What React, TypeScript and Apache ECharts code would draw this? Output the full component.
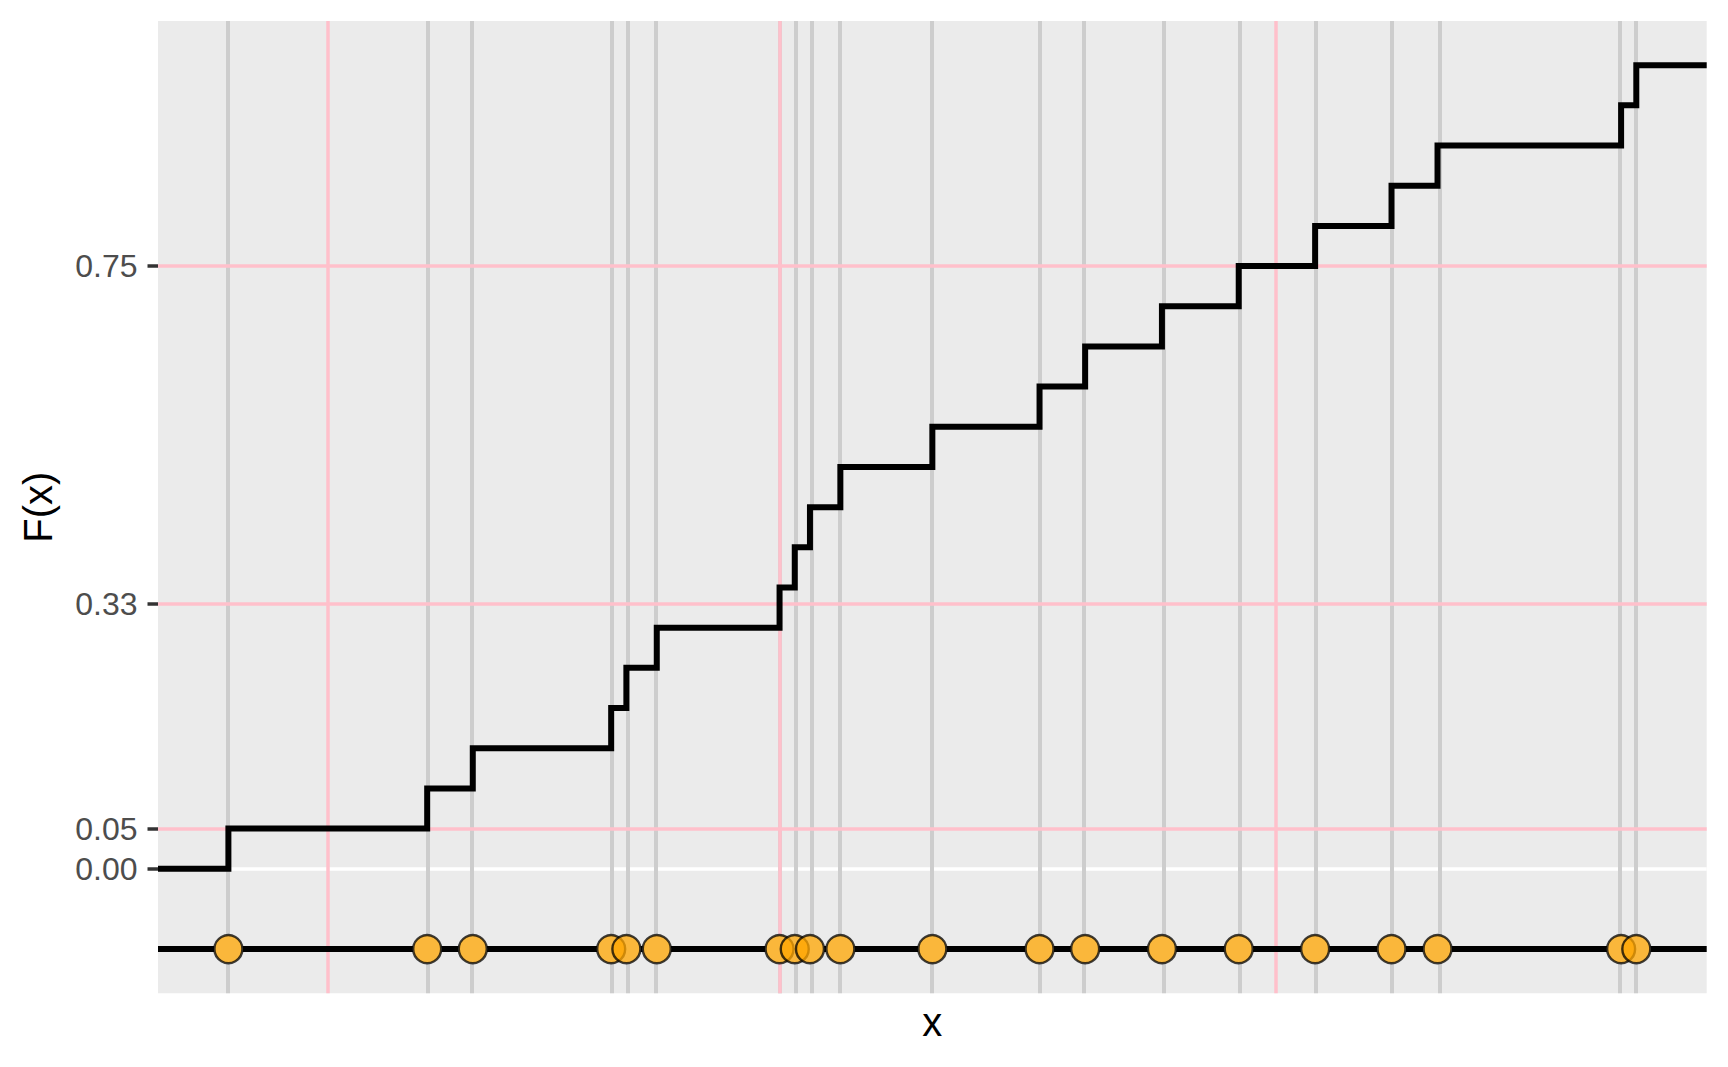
import React, { useEffect, useRef } from "react";
import * as echarts from "echarts";

// Sorted sample (arbitrary x units)
const sample = [
  0.622, 1.119, 1.233, 1.579, 1.617, 1.693, 2.0, 2.038, 2.076, 2.152,
  2.382, 2.65, 2.764, 2.956, 3.148, 3.339, 3.53, 3.645, 4.104, 4.142,
];
const yBreaks = [0, 0.05, 0.33, 0.75];
const pinkY = [0.05, 0.33, 0.75];
const pinkX = [0.871, 2.0, 3.244];
const whiteY = [0];
const rugY = -0.1;

const FONT = "'Liberation Sans', Arial, Helvetica, sans-serif";

export default function App() {
  const ref = useRef<HTMLDivElement>(null);

  useEffect(() => {
    if (!ref.current) return;
    const chart = echarts.init(ref.current, undefined, { renderer: "svg" });

    const sorted = [...sample].sort((a, b) => a - b);
    const n = sorted.length;
    const xLo = sorted[0];
    const xHi = sorted[n - 1];
    const xPad = (xHi - xLo) * 0.05;
    const xMin = xLo - xPad;
    const xMax = xHi + xPad;
    const yLo = rugY;
    const yHi = 1;
    const yPad = (yHi - yLo) * 0.05;
    const yMin = yLo - yPad;
    const yMax = yHi + yPad;

    // empirical CDF steps
    const ecdf: [number, number][] = [[xMin, 0]];
    sorted.forEach((v, i) => ecdf.push([v, (i + 1) / n]));
    ecdf.push([xMax, 1]);

    const baseMark = {
      symbol: ["none", "none"],
      silent: true,
      label: { show: false },
      emphasis: { disabled: true },
      animation: false,
    };

    chart.setOption({
      animation: false,
      grid: {
        left: 158,
        top: 21,
        right: 21.3,
        bottom: 73.7,
        show: true,
        backgroundColor: "#EBEBEB",
        borderWidth: 0,
        containLabel: false,
        outerBoundsMode: "none",
      },
      xAxis: {
        type: "value",
        min: xMin,
        max: xMax,
        axisLine: { show: false, onZero: false },
        axisTick: { show: false },
        axisLabel: { show: false },
        splitLine: { show: false },
        name: "x",
        nameLocation: "middle",
        nameGap: 9,
        nameTextStyle: { fontSize: 40, color: "#000", fontFamily: FONT },
      },
      yAxis: {
        type: "value",
        min: yMin,
        max: yMax,
        axisLine: { show: false, onZero: false },
        axisTick: {
          show: true,
          customValues: yBreaks,
          length: 10.5,
          lineStyle: { color: "#333333", width: 3.5 },
        },
        axisLabel: {
          show: true,
          customValues: yBreaks,
          formatter: (v: number) => v.toFixed(2),
          fontSize: 32,
          color: "#4D4D4D",
          fontFamily: FONT,
          margin: 20.5,
        },
        splitLine: { show: false },
        name: "F(x)",
        nameLocation: "middle",
        nameRotate: 90,
        nameGap: 100,
        nameTextStyle: { fontSize: 40, color: "#000", fontFamily: FONT },
      },
      series: [
        {
          type: "line",
          data: [],
          z: 1,
          markLine: {
            ...baseMark,
            z: 1,
            lineStyle: { color: "#FFFFFF", width: 3.5, type: "solid" },
            data: whiteY.map((v) => ({ yAxis: v })),
          },
        },
        {
          type: "line",
          data: [],
          z: 2,
          markLine: {
            ...baseMark,
            z: 2,
            lineStyle: { color: "#CDCDCD", width: 4, type: "solid" },
            data: sorted.map((v) => ({ xAxis: v })),
          },
        },
        {
          type: "line",
          data: [],
          z: 3,
          markLine: {
            ...baseMark,
            z: 3,
            lineStyle: { color: "#FFC0CB", width: 3.5, type: "solid" },
            data: [
              ...pinkY.map((v) => ({ yAxis: v })),
              ...pinkX.map((v) => ({ xAxis: v })),
            ],
          },
        },
        {
          type: "line",
          step: "end",
          data: ecdf,
          z: 4,
          showSymbol: false,
          symbol: "none",
          silent: true,
          lineStyle: { color: "#000000", width: 6, join: "miter", cap: "butt" },
        },
        {
          type: "line",
          data: [],
          z: 5,
          markLine: {
            ...baseMark,
            z: 5,
            lineStyle: { color: "#000000", width: 6, type: "solid" },
            data: [{ yAxis: rugY }],
          },
        },
        {
          type: "scatter",
          data: sorted.map((v) => [v, rugY]),
          z: 6,
          symbol: "circle",
          symbolSize: 29,
          silent: true,
          itemStyle: { color: "#EBEBEB", borderWidth: 0, opacity: 1 },
        },
        {
          type: "scatter",
          data: sorted.map((v) => [v, rugY]),
          z: 7,
          symbol: "circle",
          symbolSize: 28,
          silent: true,
          itemStyle: {
            color: "rgba(255,165,0,0.75)",
            borderColor: "rgba(0,0,0,0.75)",
            borderWidth: 2.4,
            opacity: 1,
          },
        },
      ],
    });

    return () => chart.dispose();
  }, []);

  return (
    <div
      ref={ref}
      style={{ position: "fixed", left: 0, top: 0, width: 1728, height: 1067, background: "#fff" }}
    />
  );
}
